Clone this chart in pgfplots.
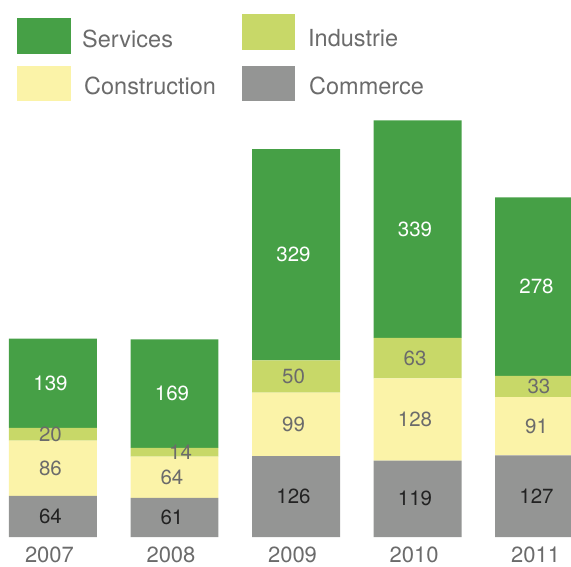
\documentclass[border=0pt]{standalone}
\usepackage{fontspec}
\setmainfont{TeX Gyre Heros}
\usepackage{pgfplots}
\pgfplotsset{compat=1.18}
\usepackage{pgfplotstable}
\definecolor{cServ}{HTML}{46A046}
\definecolor{cInd}{HTML}{C8D868}
\definecolor{cCons}{HTML}{FBF3A8}
\definecolor{cCom}{HTML}{949594}
\definecolor{txtgray}{HTML}{6B6B6B}
\definecolor{txtdark}{HTML}{222222}

\pgfplotstableread{
x Com Cons Ind Serv
0 64 86 20 139
1 61 64 14 169
2 126 99 50 329
3 119 128 63 339
4 127 91 33 278
}\datatable

% label positions (segment midpoints)
\pgfplotstableread{
x y lab
0 32 64
1 30.5 61
2 63 126
3 59.5 119
4 63.5 127
}\labCom
\pgfplotstableread{
x y lab
0 107 86
1 93 64
2 175.5 99
3 183 128
4 172.5 91
}\labCons
\pgfplotstableread{
x y lab
0 160 20
1.07 132 14
2 250 50
3 278.5 63
4.02 234.5 33
}\labInd
\pgfplotstableread{
x y lab
0 239.5 139
1 223.5 169
2 439.5 329
3 479.5 339
4 390 278
}\labServ

\pgfplotsset{base/.style={scale only axis, width=571bp, height=537bp,
  xmin=-0.436, xmax=4.263, ymin=0, ymax=836.4, enlargelimits=false},
  lbl/.style={draw=none, mark=none, nodes near coords, point meta=explicit symbolic,
  every node near coord/.append style={anchor=center, inner sep=0pt, text=#1, xshift=-2.5bp,
  font=\fontsize{20.5bp}{24bp}\selectfont}}}

\begin{document}
\begin{tikzpicture}
\begin{axis}[base, ybar stacked, bar width=0.724,
  xtick={0,1,2,3,4}, xticklabels={2007,2008,2009,2010,2011},
  ytick=\empty, axis line style={draw=none}, major tick length=0pt,
  xticklabel style={font=\fontsize{22bp}{26bp}\selectfont, text=txtgray, inner sep=0pt, anchor=north, yshift=-10bp, xshift=-3.5bp}]
\addplot[fill=cCom, draw=none] table[x=x,y=Com]{\datatable};
\addplot[fill=cCons, draw=none] table[x=x,y=Cons]{\datatable};
\addplot[fill=cInd, draw=none] table[x=x,y=Ind]{\datatable};
\addplot[fill=cServ, draw=none] table[x=x,y=Serv]{\datatable};
\end{axis}
\begin{axis}[base, hide axis]
\addplot[lbl=txtdark] table[x=x,y=y,meta=lab]{\labCom};
\addplot[lbl=txtgray] table[x=x,y=y,meta=lab]{\labCons};
\addplot[lbl=txtgray] table[x=x,y=y,meta=lab]{\labInd};
\addplot[lbl=white] table[x=x,y=y,meta=lab]{\labServ};
\end{axis}
% legend
\fill[cServ] (17bp,483bp) rectangle (71bp,519bp);
\fill[cCons] (17bp,436bp) rectangle (71bp,471bp);
\fill[cInd] (242bp,487bp) rectangle (295bp,523bp);
\fill[cCom] (242bp,436bp) rectangle (295bp,471bp);
\begin{scope}[every node/.style={anchor=west, inner sep=0pt, text=txtgray, font=\fontsize{23.5bp}{27bp}\selectfont}]
\node at (82bp,498bp) {Services};
\node at (84bp,451bp) {Construction};
\node at (308bp,499bp) {Industrie};
\node at (309bp,451bp) {Commerce};
\end{scope}
\pgfresetboundingbox
\path[use as bounding box] (0,-30bp) rectangle (571bp,537bp);
\end{tikzpicture}
\end{document}
